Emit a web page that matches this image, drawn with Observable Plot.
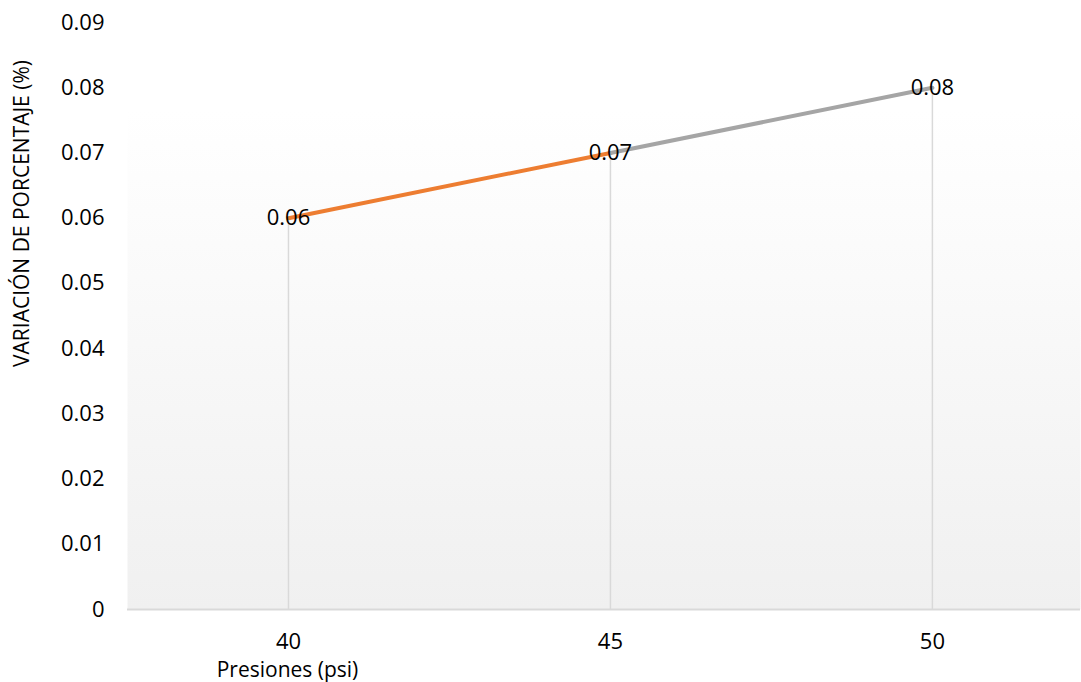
<!DOCTYPE html>
<html>
<head>
<meta charset="utf-8">
<script src="https://cdn.jsdelivr.net/npm/d3@7"></script>
<script src="https://cdn.jsdelivr.net/npm/@observablehq/plot@0.6"></script>
<style>
  html, body { margin: 0; padding: 0; background: #ffffff; }
  #chart svg { display: block; }
</style>
</head>
<body>
<div id="chart"></div>
<script>
// Pressure levels (psi) and the measured percentage variation at each one
const presiones = [40, 45, 50];
const variacion = [0.06, 0.07, 0.08];
// Each segment between consecutive pressures gets its own colour
const segmentColors = ["#ED7D31", "#A5A5A5"];
const xTicks = [40, 45, 50];
const yTicks = [0, 0.01, 0.02, 0.03, 0.04, 0.05, 0.06, 0.07, 0.08, 0.09];
const yTitle = "VARIACIÓN DE PORCENTAJE (%)";
const xTitle = "Presiones (psi)";

const points = presiones.map((p, i) => ({p, v: variacion[i]}));
const segments = segmentColors.map((c, i) => ({
  x1: presiones[i], y1: variacion[i],
  x2: presiones[i + 1], y2: variacion[i + 1],
  color: c
}));

const chart = Plot.plot({
  width: 1081,
  height: 682,
  marginLeft: 127,
  marginRight: 1,
  marginTop: 22,
  marginBottom: 73,
  style: {fontFamily: "'Open Sans', sans-serif", fontSize: "22px", color: "#000", background: "#fff"},
  x: {type: "linear", domain: [37.5, 52.3]},
  y: {domain: [0, 0.09]},
  color: {type: "identity"},
  marks: [
    Plot.frame({fill: "url(#plotBg)", stroke: "none"}),
    Plot.ruleX(points, {x: "p", y1: 0, y2: "v", stroke: "#d9d9d9", strokeWidth: 1.5}),
    Plot.ruleY([0], {stroke: "#d9d9d9", strokeWidth: 2}),
    Plot.axisY({ticks: yTicks, tickSize: 0, tickPadding: 23, label: null,
      tickFormat: d => d === 0 ? "0" : d.toFixed(2), fontSize: 22}),
    Plot.axisX({ticks: xTicks, tickSize: 0, tickPadding: 24, label: null,
      tickFormat: d => String(d), fontSize: 22}),
    Plot.link(segments, {x1: "x1", y1: "y1", x2: "x2", y2: "y2",
      stroke: "color", strokeWidth: 4, strokeLinecap: "round"}),
    Plot.text(points, {x: "p", y: "v", text: d => d.v.toFixed(2),
      fill: "#000", fontSize: 22, lineAnchor: "middle"}),
    Plot.text([yTitle], {frameAnchor: "top-left", dx: -105, dy: 191, rotate: -90,
      textAnchor: "middle", lineAnchor: "middle", fontSize: 21, fill: "#000"}),
    Plot.text([xTitle], {frameAnchor: "bottom-left", dx: 160, dy: 61,
      textAnchor: "middle", lineAnchor: "middle", fontSize: 21, fill: "#000"})
  ]
});

// Vertical gradient used as the plot-area fill
const svg = d3.select(chart);
const grad = svg.insert("defs", ":first-child")
  .append("linearGradient")
  .attr("id", "plotBg")
  .attr("x1", 0).attr("y1", 0).attr("x2", 0).attr("y2", 1);
grad.append("stop").attr("offset", "0%").attr("stop-color", "#ffffff");
grad.append("stop").attr("offset", "15%").attr("stop-color", "#ffffff");
grad.append("stop").attr("offset", "100%").attr("stop-color", "#f0f0f0");

document.getElementById("chart").appendChild(chart);
</script>
</body>
</html>
